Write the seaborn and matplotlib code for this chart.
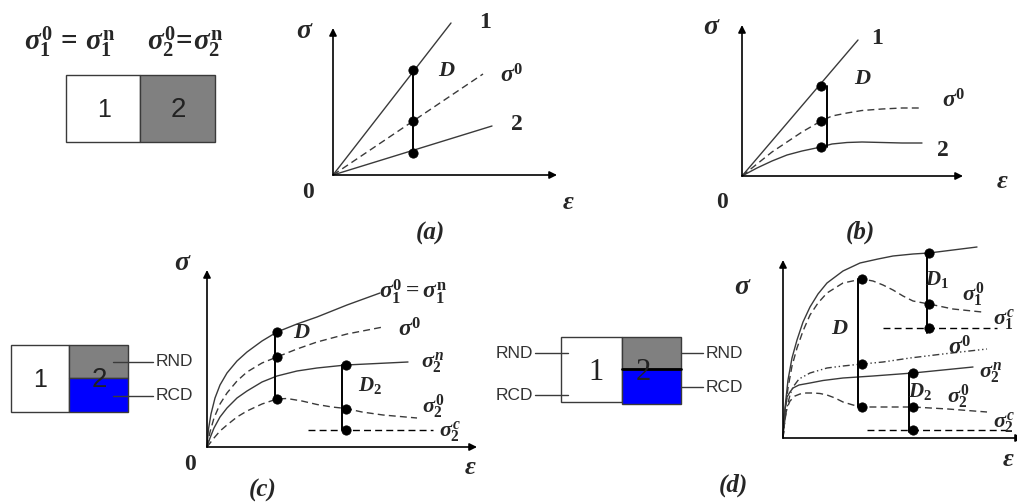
import numpy as np
import pandas as pd
import matplotlib
matplotlib.use("Agg")
import matplotlib.pyplot as plt
import seaborn as sns

# ---------------- data (schematic stress-strain curves) ----------------
# panel (a): linear
A_EPS_1 = [0, 11.8];  A_SIG_1 = [0, 15.2]
A_EPS_0 = [0, 15.0];  A_SIG_0 = [0, 10.1]
A_EPS_2 = [0, 15.9];  A_SIG_2 = [0, 4.9]
A_D_EPS = [8.0, 8.0, 8.0]; A_D_SIG = [10.5, 5.4, 2.2]

# panel (b)
B_EPS_1 = [0, 11.6];  B_SIG_1 = [0, 13.6]
B_EPS_0 = [0, 1.5, 3.0, 4.5, 6.0, 7.9, 9.0, 10.5, 12.0, 14.0, 16.0, 18.0]
B_SIG_0 = [0, 1.2, 2.4, 3.4, 4.4, 5.5, 6.0, 6.3, 6.55, 6.7, 6.8, 6.8]
B_EPS_2 = [0, 1.5, 3.0, 4.5, 6.0, 7.9, 9.0, 10.5, 12.0, 14.0, 16.0, 18.0]
B_SIG_2 = [0, 0.8, 1.5, 2.1, 2.5, 2.9, 3.2, 3.35, 3.4, 3.35, 3.3, 3.3]
B_D_EPS = [7.9, 7.9, 7.9]; B_D_SIG = [9.0, 5.5, 2.9]
B_DLINE_EPS = 8.5

# panel (c)
C_EPS_1N = [0, 0.15, 0.4, 0.8, 1.3, 2.0, 3.0, 4.0, 5.5, 7.0, 9.0, 11.0, 14.0, 17.3]
C_SIG_1N = [0, 1.8, 3.3, 4.9, 6.2, 7.4, 8.6, 9.5, 10.6, 11.5, 12.3, 13.0, 14.2, 15.4]
C_EPS_0 = [0, 0.3, 0.7, 1.3, 2.0, 3.0, 4.0, 5.5, 7.0, 9.0, 11.0, 14.0, 17.6]
C_SIG_0 = [0, 1.5, 2.9, 4.3, 5.4, 6.6, 7.5, 8.4, 9.0, 9.8, 10.5, 11.3, 12.0]
C_EPS_2N = [0, 0.3, 0.7, 1.3, 2.0, 3.0, 4.0, 5.5, 7.0, 9.0, 11.0, 13.9, 17.0, 20.1]
C_SIG_2N = [0, 0.9, 1.9, 3.0, 3.9, 4.9, 5.6, 6.5, 7.1, 7.6, 7.9, 8.2, 8.35, 8.5]
C_EPS_20 = [0, 0.7, 1.3, 2.0, 3.0, 4.0, 5.5, 7.0, 8.0, 9.5, 11.0, 12.5, 13.9, 15.5, 17.6, 21.0]
C_SIG_20 = [0, 0.9, 1.6, 2.2, 3.0, 3.6, 4.3, 4.8, 4.85, 4.6, 4.25, 4.0, 3.85, 3.5, 3.2, 2.9]
C_EPS_2C = [10.1, 22.6]; C_SIG_2C = [1.7, 1.7]
C_D_EPS = [7.0, 7.0, 7.0]; C_D_SIG = [11.5, 9.0, 4.8]
C_D2_EPS = [13.9, 13.9, 13.9]; C_D2_SIG = [8.2, 3.85, 1.7]

# panel (d)
D_EPS_1N = [0, 0.2, 0.5, 0.9, 1.4, 2.0, 2.7, 3.5, 4.4, 6.0, 7.7, 9.5, 11.0, 13.0, 14.6, 17.0, 19.4]
D_SIG_1N = [0, 3.0, 5.8, 8.0, 9.8, 11.6, 13.1, 14.4, 15.5, 16.7, 17.5, 17.9, 18.2, 18.4, 18.5, 18.8, 19.1]
D_EPS_10 = [0, 0.2, 0.5, 0.9, 1.4, 2.0, 2.7, 3.5, 4.4, 6.0, 7.9, 9.0, 10.0, 11.0, 12.0, 13.0, 14.6, 17.0, 19.9]
D_SIG_10 = [0, 2.5, 5.0, 7.2, 9.0, 10.7, 12.3, 13.5, 14.5, 15.5, 15.9, 15.7, 15.3, 14.8, 14.2, 13.7, 13.4, 12.9, 12.6]
D_EPS_1C = [10.0, 21.4]; D_SIG_1C = [11.0, 11.0]
D_EPS_0 = [0, 0.2, 0.4, 0.7, 1.0, 1.6, 2.7, 4.4, 6.0, 7.9, 10.0, 12.7, 16.0, 20.4]
D_SIG_0 = [0, 1.8, 3.1, 4.3, 5.1, 5.9, 6.5, 7.0, 7.2, 7.4, 7.6, 8.0, 8.4, 8.9]
D_EPS_2N = [0, 0.15, 0.4, 0.7, 1.0, 1.6, 2.7, 4.0, 6.0, 9.0, 13.0, 16.0, 19.0]
D_SIG_2N = [0, 2.5, 4.1, 4.6, 5.0, 5.3, 5.5, 5.75, 6.0, 6.2, 6.5, 6.8, 7.1]
D_EPS_20 = [0, 0.2, 0.4, 0.7, 1.2, 1.7, 2.3, 3.0, 3.7, 4.4, 5.2, 6.0, 7.0, 7.9, 10.0, 13.0, 16.5, 20.4]
D_SIG_20 = [0, 2.0, 3.0, 3.7, 4.2, 4.4, 4.5, 4.5, 4.45, 4.3, 4.0, 3.6, 3.3, 3.1, 3.1, 3.1, 2.9, 2.6]
D_EPS_2C = [8.4, 22.4]; D_SIG_2C = [0.8, 0.8]
D_D_EPS = [7.9, 7.9, 7.9]; D_D_SIG = [15.9, 7.4, 3.1]
D_D1_EPS = [14.6, 14.6, 14.6]; D_D1_SIG = [18.5, 13.4, 11.0]
D_D2_EPS = [13.0, 13.0, 13.0]; D_D2_SIG = [6.5, 3.1, 0.8]

BOX_LABELS = ["RND", "RCD"]

# ---------------- style ----------------
sns.set_style("white")
plt.rcParams["font.family"] = ["Liberation Serif", "DejaVu Serif"]
plt.rcParams["mathtext.fontset"] = "custom"
plt.rcParams["mathtext.rm"] = "Liberation Serif:bold"
plt.rcParams["mathtext.it"] = "Liberation Serif:italic:bold"
plt.rcParams["mathtext.bf"] = "Liberation Serif:bold"

W, H = 1017, 504
fig = plt.figure(figsize=(W / 100, H / 100), dpi=100)
fig.patch.set_facecolor("white")

canvas = fig.add_axes([0, 0, 1, 1])
canvas.set_xlim(0, W)
canvas.set_ylim(H, 0)
canvas.axis("off")

LC = "#3a3a3a"
SANS = "Liberation Sans"


def panel(ox, oy, w, h, axcol="black"):
    ax = fig.add_axes([ox / W, 1 - oy / H, w / W, h / H])
    ax.set_xlim(0, w / 10)
    ax.set_ylim(0, h / 10)
    ax.axis("off")
    ax.patch.set_alpha(0)
    for tip in [(1, 0), (0, 1)]:
        ax.annotate("", xy=tip, xytext=(0, 0), xycoords="axes fraction",
                    arrowprops=dict(arrowstyle="-|>", color=axcol, lw=1.2,
                                    mutation_scale=11, shrinkA=0, shrinkB=0))
    return ax


def curve(ax, x, y, ls="-", color=LC, lw=1.0):
    sns.lineplot(x=x, y=y, ax=ax, color=color, lw=lw, linestyle=ls,
                 sort=False, estimator=None, legend=False, clip_on=False)


def dots(ax, x, y):
    sns.scatterplot(x=x, y=y, ax=ax, color="black", s=45, edgecolor="black",
                    zorder=5, legend=False, clip_on=False)


def vline(ax, x, y0, y1):
    ax.plot([x, x], [y0, y1], color="black", lw=1.4, clip_on=False)


def lab(ax, x, y, s, size=15, **kw):
    kw.setdefault("ha", "center")
    ax.text(x, y, s, fontsize=size, va="center", **kw)


DASH = (0, (5, 3))
SIG = 20
EPS = 19

# ---------------- panel (a) ----------------
ax = panel(333, 175, 224, 147)
curve(ax, A_EPS_1, A_SIG_1)
curve(ax, A_EPS_0, A_SIG_0, ls=DASH)
curve(ax, A_EPS_2, A_SIG_2)
vline(ax, A_D_EPS[0], A_D_SIG[0], A_D_SIG[-1])
dots(ax, A_D_EPS, A_D_SIG)
lab(ax, -2.8, 14.3, r"$\sigma$", SIG)
lab(ax, -2.5, -1.7, "0", 17, fontweight="bold")
lab(ax, 23.5, -2.8, r"$\varepsilon$", EPS)
lab(ax, 15.2, 15.2, "1", 17, fontweight="bold")
lab(ax, 11.4, 10.3, r"$D$", 16)
lab(ax, 17.9, 9.9, r"$\sigma^0$", 17)
lab(ax, 18.4, 5.0, "2", 17, fontweight="bold")
lab(ax, 9.7, -5.8, "(a)", 18, fontweight="bold", fontstyle="italic")

# ---------------- panel (b) ----------------
ax = panel(742, 176, 221, 151)
curve(ax, B_EPS_1, B_SIG_1)
curve(ax, B_EPS_0, B_SIG_0, ls=DASH)
curve(ax, B_EPS_2, B_SIG_2)
vline(ax, B_DLINE_EPS, B_D_SIG[0], B_D_SIG[-1])
dots(ax, B_D_EPS, B_D_SIG)
lab(ax, -3.0, 14.8, r"$\sigma$", SIG)
lab(ax, -2.0, -2.7, "0", 17, fontweight="bold")
lab(ax, 26.0, -0.6, r"$\varepsilon$", EPS)
lab(ax, 13.5, 13.7, "1", 17, fontweight="bold")
lab(ax, 12.1, 9.6, r"$D$", 16)
lab(ax, 21.2, 7.5, r"$\sigma^0$", 17)
lab(ax, 20.1, 2.6, "2", 17, fontweight="bold")
lab(ax, 11.8, -5.6, "(b)", 18, fontweight="bold", fontstyle="italic")

# ---------------- panel (c) ----------------
ax = panel(207, 447, 270, 177)
curve(ax, C_EPS_1N, C_SIG_1N)
curve(ax, C_EPS_0, C_SIG_0, ls=DASH)
curve(ax, C_EPS_2N, C_SIG_2N)
curve(ax, C_EPS_20, C_SIG_20, ls=DASH)
curve(ax, C_EPS_2C, C_SIG_2C, ls=DASH, color="black")
vline(ax, 6.8, C_D_SIG[0], C_D_SIG[-1])
vline(ax, 13.5, C_D2_SIG[0], C_D2_SIG[-1])
dots(ax, C_D_EPS, C_D_SIG)
dots(ax, C_D2_EPS, C_D2_SIG)
lab(ax, -2.4, 18.4, r"$\sigma$", SIG)
lab(ax, -1.7, -1.8, "0", 17, fontweight="bold")
lab(ax, 26.3, -2.1, r"$\varepsilon$", EPS)
lab(ax, 20.6, 15.5, r"$\sigma_1^0=\sigma_1^\mathbf{n}$", 17)
lab(ax, 9.5, 11.4, r"$D$", 16)
lab(ax, 20.3, 11.7, r"$\sigma^0$", 17)
lab(ax, 22.5, 8.4, r"$\sigma_2^n$", 16)
lab(ax, 16.3, 6.2, r"$D_2$", 15)
lab(ax, 22.6, 4.0, r"$\sigma_2^0$", 16)
lab(ax, 24.3, 1.5, r"$\sigma_2^c$", 16)
lab(ax, 5.6, -4.3, "(c)", 18, fontweight="bold", fontstyle="italic")

# ---------------- panel (d) ----------------
ax = panel(783, 438, 240, 178)
curve(ax, D_EPS_1N, D_SIG_1N)
curve(ax, D_EPS_10, D_SIG_10, ls=DASH)
curve(ax, D_EPS_1C, D_SIG_1C, ls=DASH, color="black")
curve(ax, D_EPS_0, D_SIG_0, ls=(0, (5, 2, 1, 2, 1, 2)))
curve(ax, D_EPS_2N, D_SIG_2N)
curve(ax, D_EPS_20, D_SIG_20, ls=DASH)
curve(ax, D_EPS_2C, D_SIG_2C, ls=DASH, color="black")
vline(ax, 7.5, D_D_SIG[0], D_D_SIG[-1])
vline(ax, 14.4, D_D1_SIG[0], 10.5)
vline(ax, 12.6, D_D2_SIG[0], 0.6)
dots(ax, D_D_EPS, D_D_SIG)
dots(ax, D_D1_EPS, D_D1_SIG)
dots(ax, D_D2_EPS, D_D2_SIG)
lab(ax, -4.0, 15.1, r"$\sigma$", SIG)
lab(ax, 23.2, -2.2, r"$\varepsilon$", EPS, ha="right")
lab(ax, -5.0, -4.7, "(d)", 18, fontweight="bold", fontstyle="italic")
lab(ax, 5.7, 10.9, r"$D$", 16)
lab(ax, 15.4, 15.8, r"$D_1$", 15)
lab(ax, 19.0, 14.3, r"$\sigma_1^0$", 16)
lab(ax, 23.2, 11.8, r"$\sigma_1^c$", 16, ha="right")
lab(ax, 17.7, 9.0, r"$\sigma^0$", 17)
lab(ax, 20.7, 6.5, r"$\sigma_2^n$", 16)
lab(ax, 13.7, 4.6, r"$D_2$", 15)
lab(ax, 17.5, 4.1, r"$\sigma_2^0$", 16)
lab(ax, 23.2, 1.5, r"$\sigma_2^c$", 16, ha="right")

# ---------------- schematic boxes (canvas px coords) ----------------
def rect(x0, x1, y0, y1, fc, ec=LC, lw=1.0):
    canvas.bar(x=x0, width=x1 - x0, bottom=y0, height=y1 - y0, align="edge",
               color=fc, edgecolor=ec, linewidth=lw)

# top-left box
rect(66, 140, 75, 142, "white")
rect(140, 215, 75, 142, "#808080")
canvas.text(104, 110, "1", fontsize=18, family=SANS, ha="center", va="center", color="#222")
canvas.text(178, 110, "2", fontsize=20, family=SANS, ha="center", va="center", color="#222")
canvas.text(70, 42, r"$\sigma_1^0\,=\,\sigma_1^\mathbf{n}$", fontsize=21, ha="center", va="center")
canvas.text(185, 42, r"$\sigma_2^0\!=\!\sigma_2^\mathbf{n}$", fontsize=21, ha="center", va="center")

# box (c)
rect(11, 69, 345, 412, "white")
rect(69, 128, 345, 378, "#808080")
rect(69, 128, 378, 412, "#0000ff")
canvas.text(40, 380, "1", fontsize=18, family=SANS, ha="center", va="center", color="#222")
canvas.text(99, 380, "2", fontsize=20, family=SANS, ha="center", va="center", color="#222")
for yy, t in zip([362, 396], BOX_LABELS):
    canvas.plot([113, 153], [yy, yy], color=LC, lw=1.0)
    canvas.text(156, yy, t, fontsize=12.5, family=SANS, ha="left", va="center", color="#333")

# box (d)
rect(561, 622, 337, 402, "white")
rect(622, 681, 337, 369, "#808080")
rect(622, 681, 369, 404, "#0000ff")
canvas.plot([622, 681], [369, 369], color="black", lw=2.0)
canvas.text(596, 372, "1", fontsize=22, ha="center", va="center", color="#222")
canvas.text(643, 373, "2", fontsize=22, ha="center", va="center", color="#222")
for yy, t in zip([353, 395], BOX_LABELS):
    canvas.plot([535, 568], [yy, yy], color=LC, lw=1.0)
    canvas.text(533, yy, t, fontsize=12.5, family=SANS, ha="right", va="center", color="#333")
for yy, t in zip([353, 387], BOX_LABELS):
    canvas.plot([681, 703], [yy, yy], color=LC, lw=1.0)
    canvas.text(706, yy, t, fontsize=12.5, family=SANS, ha="left", va="center", color="#333")

fig.savefig("out.png", dpi=100, facecolor="white")
